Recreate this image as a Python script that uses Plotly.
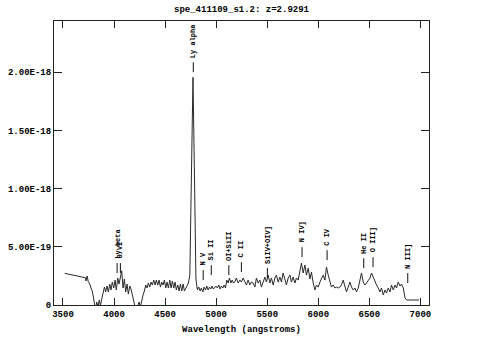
import plotly.graph_objects as go

# Spectrum (wavelength in Angstrom, flux in units of 1e-19)
wavelength = [3517, 3720, 3725, 3737, 3747, 3762, 3774, 3786, 3796, 3806, 3818, 3830, 3843, 3855, 3867,
              3879, 3892, 3906, 3918, 3931, 3944, 3958, 3970, 3983, 3997, 4010, 4022, 4036, 4049, 4062,
              4075, 4088, 4101, 4114, 4127, 4140, 4154, 4166, 4179, 4193, 4206, 4218, 4232, 4245, 4258,
              4271, 4284, 4297, 4310, 4323, 4336, 4350, 4362, 4375, 4389, 4402, 4414, 4428, 4441, 4454,
              4467, 4480, 4493, 4506, 4519, 4532, 4546, 4558, 4571, 4585, 4598, 4610, 4624, 4637, 4650,
              4663, 4676, 4689, 4703, 4715, 4728, 4742, 4757, 4773, 4788, 4802, 4816, 4830, 4843, 4855,
              4869, 4882, 4895, 4908, 4921, 4934, 4947, 4960, 4973, 4987, 4999, 5012, 5026, 5039, 5051,
              5065, 5078, 5091, 5104, 5117, 5130, 5143, 5156, 5169, 5182, 5198, 5215, 5232, 5247, 5264,
              5281, 5296, 5313, 5330, 5345, 5362, 5379, 5394, 5411, 5428, 5443, 5460, 5477, 5492, 5509,
              5526, 5541, 5558, 5575, 5590, 5607, 5624, 5639, 5656, 5673, 5688, 5705, 5722, 5737, 5754,
              5771, 5786, 5803, 5820, 5835, 5852, 5869, 5884, 5901, 5918, 5933, 5950, 5967, 5982, 5999,
              6016, 6031, 6048, 6065, 6080, 6097, 6114, 6129, 6146, 6163, 6178, 6195, 6212, 6227, 6244,
              6261, 6276, 6293, 6310, 6325, 6342, 6359, 6374, 6391, 6408, 6423, 6440, 6457, 6472, 6489,
              6506, 6521, 6538, 6555, 6570, 6587, 6604, 6619, 6636, 6653, 6668, 6685, 6702, 6717, 6734,
              6751, 6766, 6783, 6800, 6815, 6832, 6849, 6866, 6986]
flux_e19 = [2.72, 2.34, 2.06, 2.49, 2.02, 1.80, 1.46, 1.20, 0.77, 0.17, -0.43, 0.26, -0.17, 0.43, -0.09,
            0.51, 1.12, 1.54, 1.12, 1.63, 1.12, 1.80, 1.29, 1.97, 1.46, 2.14, 1.29, 2.32, 1.80, 2.49,
            2.94, 1.46, 2.23, 1.12, 1.80, 0.94, 1.63, 1.37, 0.77, 0.34, -0.17, -0.43, -0.09, 0.26, -0.17,
            0.43, 0.86, 1.20, 1.72, 1.46, 1.89, 1.54, 1.97, 1.72, 2.14, 1.72, 2.14, 1.72, 2.14, 1.54,
            1.97, 1.72, 2.14, 1.46, 1.97, 1.46, 2.14, 1.46, 2.06, 1.46, 1.97, 1.29, 1.72, 1.20, 1.80,
            1.20, 1.80, 1.20, 1.46, 1.63, 1.89, 2.57, 9.87, 19.56, 10.73, 2.23, 1.29, 1.54, 1.20, 1.46,
            1.12, 1.54, 1.29, 1.63, 1.29, 1.54, 1.37, 1.63, 1.37, 1.54, 1.63, 1.46, 1.72, 1.37, 1.63,
            1.46, 1.72, 1.46, 2.14, 1.89, 2.32, 1.89, 2.14, 1.89, 1.97, 2.32, 1.89, 2.14, 1.97, 2.32,
            1.97, 1.72, 2.14, 1.72, 1.97, 1.89, 1.54, 2.32, 1.89, 2.14, 1.54, 1.97, 2.40, 1.97, 2.57,
            1.89, 2.32, 1.72, 2.32, 2.57, 1.97, 2.40, 1.97, 2.75, 2.14, 1.72, 2.32, 2.57, 1.97, 2.40,
            1.89, 2.32, 2.14, 3.00, 3.60, 2.75, 3.43, 2.57, 3.17, 2.23, 2.83, 1.89, 1.29, 1.72, 1.54,
            1.97, 2.32, 2.57, 2.14, 3.26, 2.57, 1.97, 1.54, 1.72, 1.46, 1.54, 1.46, 1.54, 1.72, 2.14,
            1.46, 1.12, 1.54, 1.97, 1.54, 1.29, 1.46, 1.12, 1.46, 2.32, 2.75, 1.97, 1.72, 1.89, 2.14,
            2.32, 2.75, 2.40, 1.89, 1.72, 1.46, 1.12, 1.46, 0.86, 1.29, 1.03, 1.46, 1.12, 1.72, 1.29,
            1.72, 1.46, 1.97, 1.63, 1.80, 1.46, 0.60, 0.43, 0.43]

# Emission line identifications
line_names = ["Ly beta", "O VI", "Ly alpha", "N V", "Si II", "OI+SiII", "C II", "SiIV+OIV]",
              "N IV]", "C IV", "He II", "O III]", "N III]"]
line_waves = [4030, 4062, 4776, 4873, 4952, 5124, 5247, 5501, 5841, 6086, 6445, 6536, 6876]
line_base_e19 = [2.75, 2.75, 20.0, 2.14, 2.57, 2.57, 2.83, 2.32, 4.12, 3.86, 3.17, 3.26, 1.89]

x_ticks = [3500, 4000, 4500, 5000, 5500, 6000, 6500, 7000]
y_tickvals = [0, 5e-19, 1e-18, 1.5e-18, 2e-18]
y_ticktext = ["0", "5.00E-19", "1.00E-18", "1.50E-18", "2.00E-18"]

title_text = "spe_411109_s1.2: z=2.9291"
x_title = "Wavelength (angstroms)"

SCALE = 1e-19
FONT = "Liberation Mono"

flux = [v * SCALE for v in flux_e19]

fig = go.Figure()
fig.add_trace(go.Scatter(x=wavelength, y=flux, mode="lines",
                         line=dict(color="#2a2a2a", width=1), hoverinfo="skip",
                         showlegend=False))

tick_len = 0.85 * SCALE
gap = 0.3 * SCALE
for name, w, b in zip(line_names, line_waves, line_base_e19):
    base = b * SCALE
    fig.add_shape(type="line", xref="x", yref="y", x0=w, x1=w, y0=base, y1=base + tick_len,
                  line=dict(color="#111", width=1))
    fig.add_annotation(x=w, y=base + tick_len + gap, xref="x", yref="y", text=name,
                       showarrow=False, textangle=-90, xanchor="center", yanchor="bottom",
                       font=dict(family=FONT, size=7, color="black", weight="bold"),
                       borderpad=0)

# Title as an annotation above the plot area
fig.add_annotation(x=0.5, y=1, xref="paper", yref="paper", text=title_text, showarrow=False,
                   xanchor="center", yanchor="bottom", yshift=4,
                   font=dict(family=FONT, size=9, color="black", weight="bold"))

fig.update_layout(
    width=483, height=358,
    margin=dict(l=54, r=54, t=21, b=53, autoexpand=False),
    paper_bgcolor="white", plot_bgcolor="white",
    font=dict(family=FONT, size=9, color="black", weight="bold"),
)
fig.update_xaxes(range=[3412, 7084], tickvals=x_ticks, ticks="inside", ticklen=7,
                 tickcolor="#222", showline=True, linecolor="#222", linewidth=1, mirror="ticks",
                 showgrid=False, zeroline=False, automargin=False,
                 title=dict(text=x_title, standoff=6,
                            font=dict(family=FONT, size=9, weight="bold")),
                 tickfont=dict(family=FONT, size=9, weight="bold"))
fig.update_yaxes(range=[0, 2.44e-18], tickvals=y_tickvals, ticktext=y_ticktext,
                 ticks="inside", ticklen=8, tickcolor="#222", showline=True, linecolor="#222",
                 linewidth=1, mirror="ticks", showgrid=False, zeroline=False, automargin=False,
                 tickfont=dict(family=FONT, size=9, weight="bold"))

fig.write_html("out.html", config={"displayModeBar": False},
               post_script="document.body.style.margin='0px';")
